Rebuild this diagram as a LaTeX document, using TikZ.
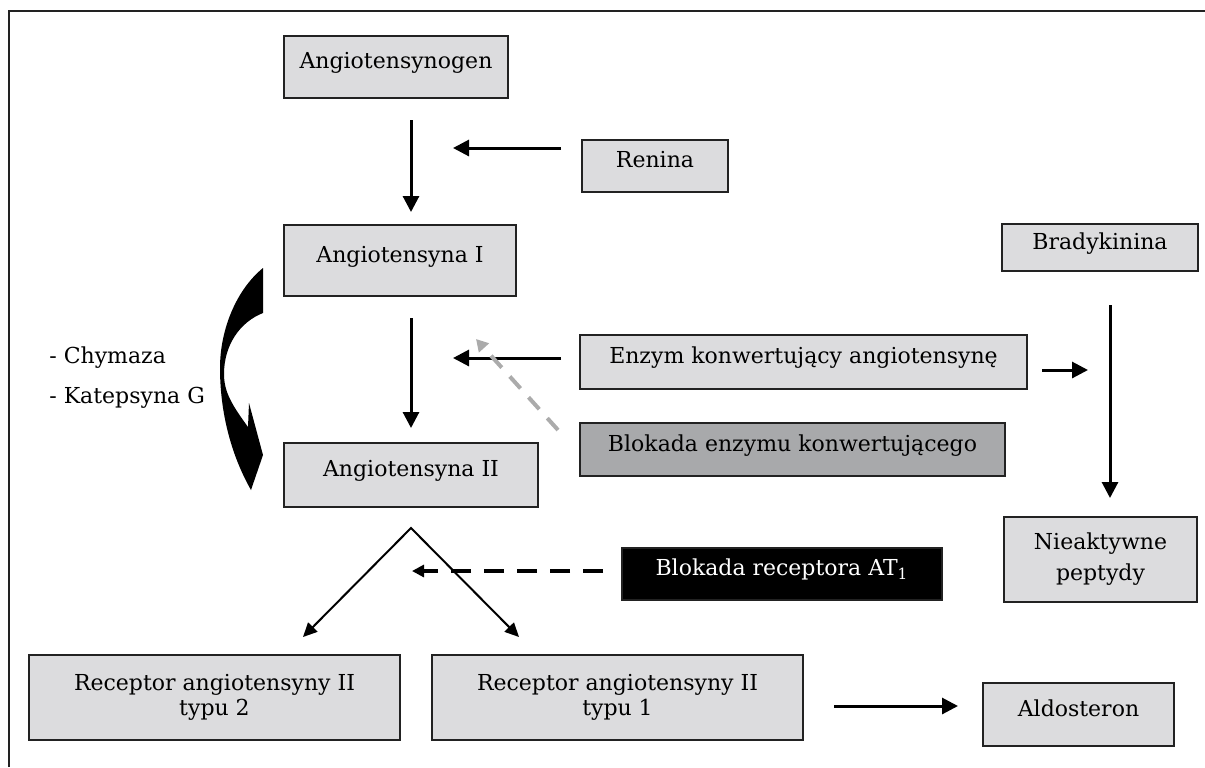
\documentclass[tikz,border=0pt]{standalone}
\usepackage{fontspec}
\setmainfont{DejaVu Serif}
\usepackage{tikz}
\usetikzlibrary{arrows.meta}
\usetikzlibrary{calc}
\usetikzlibrary{positioning}
\definecolor{box-light}{HTML}{DCDCDE}
\definecolor{box-mid}{HTML}{A8A9AB}
\definecolor{box-line}{HTML}{222222}
\definecolor{arrow-grey}{HTML}{ABABAB}

\begin{document}
\begin{tikzpicture}[x=0.5pt, y=-0.5pt, font=\fontsize{11}{12.5}\selectfont]

    \useasboundingbox (0,0) rectangle (1205,767);

    % frame
    \draw[line width=0.8pt, color=box-line] (9,767) -- (9,11) -- (1205,11);

    % boxes
    \begin{scope}[every node/.style={draw=box-line, line width=0.75pt, fill=box-light,
                  inner sep=0pt, align=center, anchor=center, text depth=6.5pt}]
        \node[minimum width=112pt, minimum height=31pt] (angen) at (396,67) {Angiotensynogen};
        \node[minimum width=73pt, minimum height=26pt] (renina) at (655,166) {Renina};
        \node[minimum width=116pt, minimum height=35.5pt] (ang1) at (400,260.5) {Angiotensyna I};
        \node[minimum width=98pt, minimum height=23.5pt] (brady) at (1100,247.5) {Bradykinina};
        \node[minimum width=223.5pt, minimum height=27pt] (ace) at (803.5,362) {Enzym konwertujący angiotensynę};
        \node[minimum width=212.5pt, minimum height=26.5pt, fill=box-mid] (aceblock) at (792.5,449.5) {Blokada enzymu konwertującego};
        \node[minimum width=127pt, minimum height=32pt] (ang2) at (411,475) {Angiotensyna II};
        \node[minimum width=160pt, minimum height=26pt, fill=black, text=white] (atblock) at (782,574) {Blokada receptora AT\textsubscript{1}};
        \node[minimum width=95.5pt, minimum height=31.5pt] (aldo) at (1078.5,714.5) {Aldosteron};
    \end{scope}
    \begin{scope}[every node/.style={draw=box-line, line width=0.75pt, fill=box-light,
                  inner sep=0pt, align=center, anchor=center}]
        \node[minimum width=96.5pt, minimum height=42.5pt] (inact) at (1100.5,559.5) {Nieaktywne\\[3pt]peptydy};
        \node[minimum width=185.5pt, minimum height=42.5pt] (rec2) at (214.5,697.5) {Receptor angiotensyny II\\typu 2};
        \node[minimum width=185.5pt, minimum height=42.5pt] (rec1) at (617.5,697.5) {Receptor angiotensyny II\\typu 1};
    \end{scope}

    % side labels
    \begin{scope}[every node/.style={anchor=west, inner sep=0pt}]
        \node (chym) at (49,358) {- Chymaza};
        \node (katep) at (49,398) {- Katepsyna G};
    \end{scope}

    % arrow ends
    \coordinate (a1s) at (411,120);   \coordinate (a1e) at (411,212);
    \coordinate (rens) at (561,148);  \coordinate (rene) at (453,148);
    \coordinate (a2s) at (411,318);   \coordinate (a2e) at (411,428);
    \coordinate (aces) at (561,358);  \coordinate (acee) at (453,358);
    \coordinate (blks) at (558,430);  \coordinate (blke) at (476,339);
    \coordinate (bras) at (1042,370); \coordinate (brae) at (1088,370);
    \coordinate (brvs) at (1110,305); \coordinate (brve) at (1110,498);
    \coordinate (ats) at (603,571);   \coordinate (ate) at (412,571);
    \coordinate (apex) at (411,528);
    \coordinate (vl) at (303,637);    \coordinate (vr) at (519,637);
    \coordinate (alds) at (834,706);  \coordinate (alde) at (958,706);

    % arrows
    \begin{scope}[every path/.style={line width=1.5pt, -{Triangle[length=8pt, width=8pt]}}]
        \draw (a1s) -- (a1e);
        \draw (rens) -- (rene);
        \draw (a2s) -- (a2e);
        \draw (aces) -- (acee);
        \draw (bras) -- (brae);
        \draw (brvs) -- (brve);
        \draw (alds) -- (alde);
    \end{scope}

    % V split
    \draw[line width=1pt, {Triangle[length=7pt, width=6.5pt]}-{Triangle[length=7pt, width=6.5pt]}]
        (vl) -- (apex) -- (vr);

    % blocking arrows
    \draw[line width=2pt, dash pattern=on 10pt off 6.5pt, -{Triangle[length=6pt, width=6pt]}]
        (ats) -- (ate);
    \draw[line width=2pt, color=arrow-grey, dash pattern=on 8pt off 6pt, -{Triangle[length=6pt, width=6.5pt]}]
        (blks) -- (blke);

    % curved arrow
    \fill (263,268) .. controls (236,290) and (220,330) .. (220,368)
        .. controls (220,420) and (235,462) .. (251,490)
        -- (263,455) -- (249,403) -- (248,427)
        .. controls (232,405) and (224,392) .. (224,374)
        .. controls (224,345) and (240,322) .. (263,313) -- cycle;

\end{tikzpicture}
\end{document}
